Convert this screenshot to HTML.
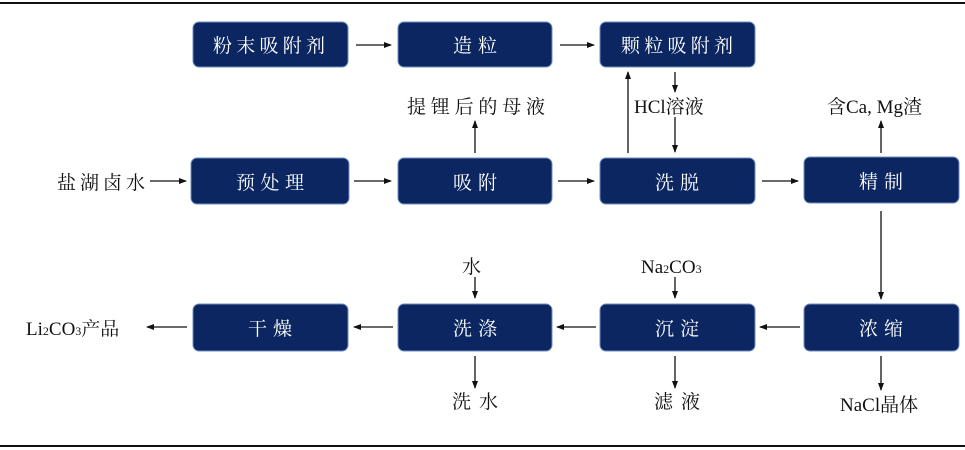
<!DOCTYPE html>
<html><head><meta charset="utf-8"><style>
html,body{margin:0;padding:0;background:#fff;}
svg{display:block;}
text{font-family:"Liberation Serif","Noto Serif CJK SC",serif;}
.b{fill:#0b2660;stroke:#6f8fc4;stroke-width:1;}
.w{fill:#fff;font-size:19px;}
.k{fill:#111;font-size:19px;}
.l{stroke:#111;stroke-width:1.3;fill:none;}
</style></head><body>
<svg width="965" height="450" viewBox="0 0 965 450">
<defs><marker id="a" markerWidth="8" markerHeight="8" refX="7" refY="4" orient="auto" markerUnits="userSpaceOnUse"><path d="M0,1 L8,4 L0,7 Z" fill="#111"/></marker></defs>
<rect x="0" y="2" width="965" height="2" fill="#111"/>
<rect x="0" y="445" width="965" height="2" fill="#111"/>
<g>
<rect class="b" x="193" y="22" width="155" height="45" rx="6"/>
<rect class="b" x="398" y="22" width="154" height="45" rx="6"/>
<rect class="b" x="600" y="22" width="155" height="45" rx="6"/>
<rect class="b" x="191" y="158" width="158" height="46" rx="6"/>
<rect class="b" x="398" y="158" width="154" height="46" rx="6"/>
<rect class="b" x="600" y="158" width="155" height="46" rx="6"/>
<rect class="b" x="804" y="157" width="155" height="46" rx="6"/>
<rect class="b" x="193" y="304" width="155" height="47" rx="6"/>
<rect class="b" x="398" y="304" width="154" height="47" rx="6"/>
<rect class="b" x="600" y="304" width="155" height="47" rx="6"/>
<rect class="b" x="804" y="304" width="155" height="47" rx="6"/>
</g>
<text class="w" x="213" y="52" textLength="112">粉末吸附剂</text>
<text class="w" x="453" y="52" textLength="44">造粒</text>
<text class="w" x="621" y="52" textLength="112">颗粒吸附剂</text>
<text class="w" x="236" y="189" textLength="68">预处理</text>
<text class="w" x="453" y="189" textLength="44">吸附</text>
<text class="w" x="655" y="189" textLength="44">洗脱</text>
<text class="w" x="859" y="188" textLength="44">精制</text>
<text class="w" x="248" y="335" textLength="44">干燥</text>
<text class="w" x="453" y="335" textLength="44">洗涤</text>
<text class="w" x="655" y="335" textLength="44">沉淀</text>
<text class="w" x="859" y="335" textLength="44">浓缩</text>
<g class="l" marker-end="url(#a)">
<line x1="356" y1="45" x2="391" y2="45"/>
<line x1="560" y1="45" x2="594" y2="45"/>
<line x1="150" y1="181" x2="186" y2="181"/>
<line x1="354" y1="181" x2="391" y2="181"/>
<line x1="558" y1="181" x2="594" y2="181"/>
<line x1="762" y1="181" x2="798" y2="181"/>
<line x1="475" y1="153" x2="475" y2="121"/>
<line x1="628" y1="153" x2="628" y2="72"/>
<line x1="675" y1="72" x2="675" y2="92"/>
<line x1="675" y1="117" x2="675" y2="152"/>
<line x1="881" y1="153" x2="881" y2="121"/>
<line x1="881" y1="211" x2="881" y2="299"/>
<line x1="800" y1="327" x2="760" y2="327"/>
<line x1="596" y1="327" x2="557" y2="327"/>
<line x1="393" y1="327" x2="354" y2="327"/>
<line x1="187" y1="327" x2="147" y2="327"/>
<line x1="675" y1="277" x2="675" y2="298"/>
<line x1="475" y1="277" x2="475" y2="298"/>
<line x1="675" y1="356" x2="675" y2="388"/>
<line x1="475" y1="356" x2="475" y2="388"/>
<line x1="881" y1="356" x2="881" y2="390"/>
</g>
<text class="k" x="57" y="189" textLength="88">盐湖卤水</text>
<text class="k" x="407" y="113" textLength="138">提锂后的母液</text>
<text class="k" x="634" y="113" font-size="20">HCl溶液</text>
<text class="k" x="827" y="113" font-size="20">含Ca, Mg渣</text>
<text class="k" x="641" y="273">Na<tspan font-size="12">2</tspan>CO<tspan font-size="12">3</tspan></text>
<text class="k" x="462" y="273">水</text>
<text class="k" x="26" y="335">Li<tspan font-size="12">2</tspan>CO<tspan font-size="12">3</tspan>产品</text>
<text class="k" x="452" y="408" textLength="46">洗水</text>
<text class="k" x="654" y="408" textLength="46">滤液</text>
<text class="k" x="840" y="411" font-size="20">NaCl晶体</text>
</svg>
</body></html>
